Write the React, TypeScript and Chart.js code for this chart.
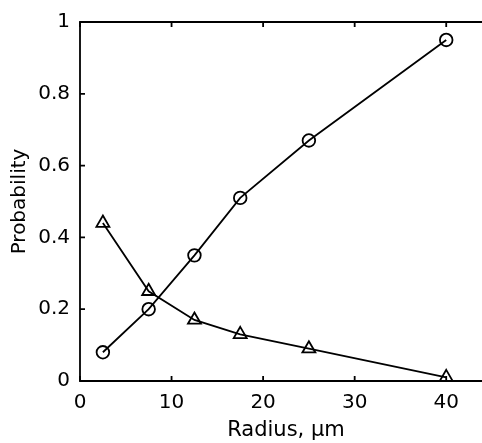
import React, { useEffect, useRef } from "react";
import { Chart, registerables } from "chart.js";

Chart.register(...registerables);

const radius = [2.5, 7.5, 12.5, 17.5, 25, 40];
const circleSeries = [0.08, 0.2, 0.35, 0.51, 0.67, 0.95];
const triangleSeries = [0.44, 0.25, 0.17, 0.13, 0.09, 0.01];
const xTickValues = [0, 10, 20, 30, 40];
const xTickLabels = ["0", "10", "20", "30", "40"];
const yTickValues = [0, 0.2, 0.4, 0.6, 0.8, 1];
const yTickLabels = ["0", "0.2", "0.4", "0.6", "0.8", "1"];
const xTitle = "Radius, \u03bcm";
const yTitle = "Probability";

const FONT = "'DejaVu Sans', 'Liberation Sans', Arial, sans-serif";
// plot box extends past the right edge of the picture (as in the reference)
const PLOT_RIGHT = 492;

const extendPlugin = {
  id: "extendRight",
  afterLayout(chart: any) {
    const xs = chart.scales.x;
    chart.chartArea.right = PLOT_RIGHT;
    chart.chartArea.width = PLOT_RIGHT - chart.chartArea.left;
    xs.right = PLOT_RIGHT;
    xs.width = PLOT_RIGHT - xs.left;
    xs.configure();
  },
};

const boxPlugin = {
  id: "matlabBox",
  afterDatasetsDraw(chart: any) {
    const { ctx, chartArea } = chart;
    const { left, right, top, bottom } = chartArea;
    const xs = chart.scales.x;
    const ys = chart.scales.y;
    const tl = 5;
    ctx.save();
    ctx.strokeStyle = "#000";
    ctx.lineWidth = 1.8;
    ctx.beginPath();
    ctx.moveTo(right, top);
    ctx.lineTo(left, top);
    ctx.lineTo(left, bottom);
    ctx.lineTo(right, bottom);
    ctx.stroke();
    ctx.beginPath();
    xTickValues.forEach((v) => {
      const px = xs.getPixelForValue(v);
      ctx.moveTo(px, bottom);
      ctx.lineTo(px, bottom - tl);
      ctx.moveTo(px, top);
      ctx.lineTo(px, top + tl);
    });
    yTickValues.forEach((v) => {
      const py = ys.getPixelForValue(v);
      ctx.moveTo(left, py);
      ctx.lineTo(left + tl, py);
    });
    ctx.stroke();
    ctx.restore();
  },
};

export default function App() {
  const ref = useRef<HTMLCanvasElement | null>(null);

  useEffect(() => {
    if (!ref.current) return;
    const pts = (ys: number[]) => radius.map((x, i) => ({ x, y: ys[i] }));
    const common = {
      borderColor: "#000",
      borderWidth: 1.8,
      pointBorderWidth: 1.8,
      pointBorderColor: "#000",
      pointBackgroundColor: "rgba(0,0,0,0)",
      tension: 0,
      clip: false as any,
    };
    const chart = new Chart(ref.current, {
      type: "line",
      data: {
        datasets: [
          {
            ...common,
            data: pts(circleSeries),
            pointStyle: "circle",
            pointRadius: 6.3,
          },
          {
            ...common,
            data: pts(triangleSeries),
            pointStyle: "triangle",
            pointRadius: 7.5,
          },
        ],
      },
      options: {
        responsive: false,
        animation: false,
        layout: { padding: { top: 20, right: 0, left: 0, bottom: 0 } },
        plugins: {
          legend: { display: false },
          tooltip: { enabled: false },
        },
        scales: {
          x: {
            type: "linear",
            min: 0,
            max: 45,
            grid: { display: false, drawTicks: false },
            border: { display: false },
            afterBuildTicks: (s: any) => {
              s.ticks = xTickValues.map((v) => ({ value: v }));
            },
            afterFit: (s: any) => {
              s.height = 62;
              s.paddingRight = 0;
              s.paddingLeft = 0;
            },
            ticks: {
              padding: 10,
              color: "#000",
              font: { family: FONT, size: 20 },
              maxRotation: 0,
              autoSkip: false,
              callback: (v: any) => {
                const i = xTickValues.indexOf(Number(v));
                return i >= 0 ? xTickLabels[i] : "";
              },
            },
            title: {
              display: true,
              text: xTitle,
              color: "#000",
              font: { family: FONT, size: 21 },
              padding: { top: 0, bottom: 0 },
            },
          },
          y: {
            type: "linear",
            min: 0,
            max: 1,
            grid: { display: false, drawTicks: false },
            border: { display: false },
            afterBuildTicks: (s: any) => {
              s.ticks = yTickValues.map((v) => ({ value: v }));
            },
            afterFit: (s: any) => {
              s.width = 80;
            },
            ticks: {
              padding: 10,
              color: "#000",
              font: { family: FONT, size: 20 },
              autoSkip: false,
              callback: (v: any) => {
                const i = yTickValues.indexOf(Number(v));
                return i >= 0 ? yTickLabels[i] : "";
              },
            },
            title: {
              display: true,
              text: yTitle,
              color: "#000",
              font: { family: FONT, size: 20 },
              padding: { top: 8, bottom: 0 },
            },
          },
        },
      },
      plugins: [extendPlugin, boxPlugin],
    });
    return () => chart.destroy();
  }, []);

  return (
    <canvas
      ref={ref}
      width={482}
      height={443}
      style={{ display: "block", position: "fixed", left: 0, top: 0, background: "#fff" }}
    />
  );
}
